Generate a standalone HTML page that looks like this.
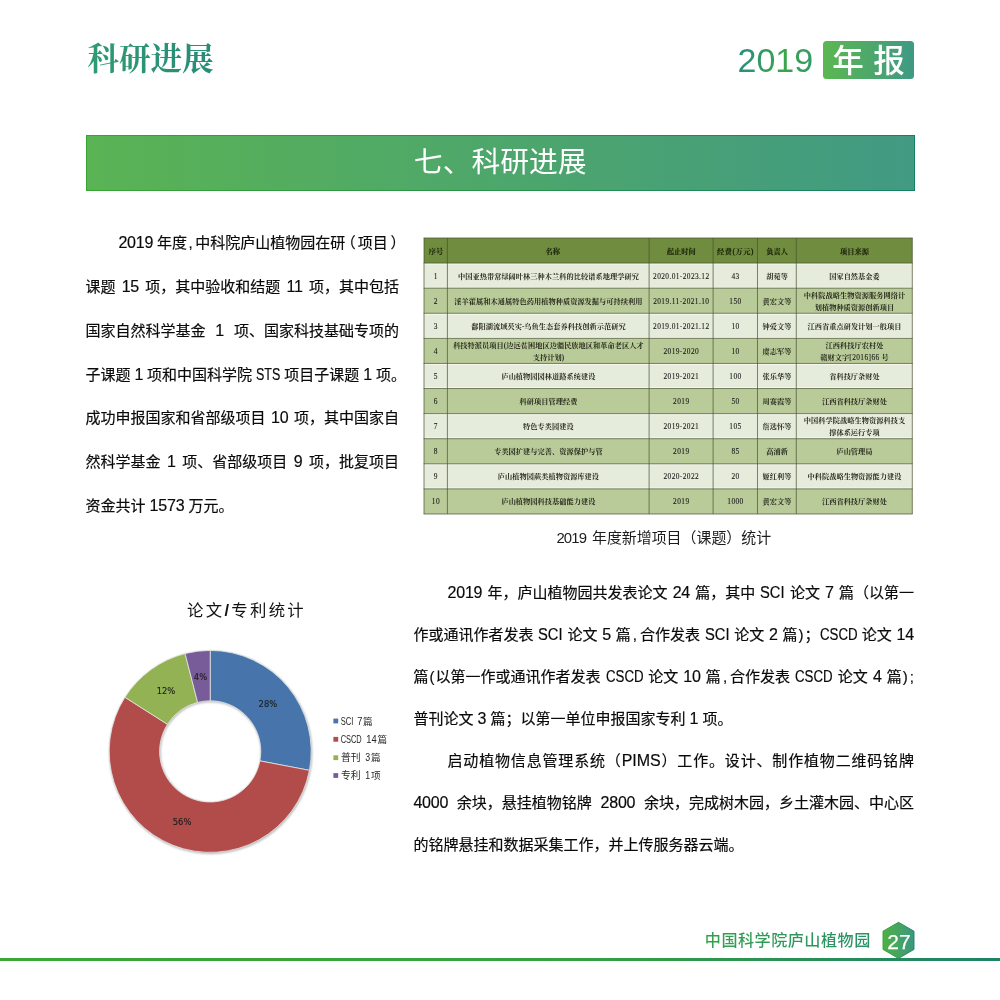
<!DOCTYPE html>
<html lang="zh-CN">
<head>
<meta charset="utf-8">
<title>科研进展 - 2019 年报</title>
<style>
*{margin:0;padding:0;box-sizing:border-box;}
html,body{width:1000px;height:1000px;background:#fff;overflow:hidden;}
body{position:relative;font-family:"Liberation Sans","Noto Sans CJK SC",sans-serif;color:#222;}
#page{position:absolute;left:0;top:0;width:1000px;height:1000px;will-change:transform;}
.abs{position:absolute;white-space:nowrap;}
/* header */
#hd-title{left:87.5px;top:37px;font-family:"Liberation Serif","Noto Serif CJK SC",serif;font-weight:700;font-size:31.5px;line-height:46px;
  background:linear-gradient(90deg,#2f9a72,#278c78);-webkit-background-clip:text;background-clip:text;color:transparent;}
#hd-year{left:737.5px;top:41px;font-size:34px;line-height:38px;
  background:linear-gradient(100deg,#2c8f78 10%,#3aa64a 60%,#2f9a6a);-webkit-background-clip:text;background-clip:text;color:transparent;}
#hd-badge{left:823px;top:41px;width:91px;height:37.5px;border-radius:3.5px;background:linear-gradient(90deg,#5cb751,#3f9984);}
#hd-badge span{position:absolute;top:-2.2px;color:#fff;font-size:31.5px;line-height:44px;font-weight:500;}
/* banner */
#banner{left:86px;top:134.5px;width:828.5px;height:56px;background:linear-gradient(90deg,#37a432,#138063);}
#banner i{position:absolute;left:1px;top:1px;right:1px;bottom:1px;background:linear-gradient(90deg,#5ab354,#419a82);}
#banner span{position:absolute;left:0;right:0;top:-.4px;text-align:center;color:#fff;font-size:28.8px;line-height:56px;font-weight:400;}
/* paragraphs */
.para{position:absolute;font-size:15px;color:#0a0a0a;-webkit-text-stroke:.18px #0a0a0a;}
.para div{white-space:nowrap;text-align:justify;text-align-last:justify;}
.para div.last{text-align:left;text-align-last:left;}
.pe{margin-right:-7px;}
.hc{margin:0 3px 0 2px;}
.hp{margin:0 1px;}
.sc2{margin-left:1px;}
.para b{font-weight:400;font-size:16px;letter-spacing:-.2px;line-height:0;}
.para b.u{display:inline-block;letter-spacing:0;text-align:left;}
.para b.u i{display:inline-block;font-style:normal;transform-origin:0 50%;white-space:nowrap;}
/* table */
#tb .c{position:absolute;display:flex;align-items:center;justify-content:center;text-align:center;
  font-family:"Liberation Serif","Noto Serif CJK SC",serif;font-weight:700;font-size:7.2px;line-height:12.4px;color:#26281c;white-space:nowrap;letter-spacing:.05px;}
#tb .c span{display:block;}
#tb .h{color:#1a220b;-webkit-text-stroke:.12px #1a220b;}
#tb .d,#tb .c b{letter-spacing:.4px;font-size:7.4px;font-weight:400;color:#1a1a1a;-webkit-text-stroke:.1px #1a1a1a;}
#tb .hn{padding-left:8.4px;}
#tb .hf{letter-spacing:.55px;}
#cap{left:556.4px;top:526.6px;font-size:14.95px;line-height:22px;word-spacing:1.6px;color:#1c1c1c;}
#cap b{font-weight:400;letter-spacing:-.86px;}
/* footer */
#ft-line{left:0;top:957.8px;width:1000px;height:2.8px;background:linear-gradient(90deg,#3aa738 0%,#36a23f 55%,#1e8268 100%);}
#ft-text{left:704.8px;top:926.8px;font-size:16.1px;line-height:26px;letter-spacing:.5px;font-weight:500;
  background:linear-gradient(90deg,#33a04e,#2a9068);-webkit-background-clip:text;background-clip:text;color:transparent;}
#ft-hex{left:880px;top:919px;width:38px;height:42px;}
</style>
</head>
<body>
<div id="page">

<div class="abs" id="hd-title">科研进展</div>
<div class="abs" id="hd-year">2019</div>
<div class="abs" id="hd-badge"><span style="left:9.2px">年</span><span style="left:50.2px">报</span></div>

<div class="abs" id="banner"><i></i><span>七、科研进展</span></div>

<div class="para" id="lp" style="left:85.4px;top:221.3px;width:313.6px;line-height:43.73px;">
<div class="last" style="padding-left:33px;word-spacing:-.3px"><b>2019</b> 年度<span style="margin:0 2.7px 0 1.4px">,</span>中科院庐山植物园在研<span style="margin:0 2px 0 -4.6px">（</span>项目<span style="margin:0 -9px 0 2.7px">）</span></div>
<div style="word-spacing:2.05px">课题 <b>15</b> 项，其中验收和结题 <b>11</b> 项，其中包括</div>
<div style="word-spacing:5.75px">国家自然科学基金 <b>1</b> 项、国家科技基础专项的</div>
<div style="word-spacing:-0.21px">子课题 <b>1</b> 项和中国科学院 <b class="u" style="width:24.3px"><i style="transform:scaleX(0.78)">STS</i></b> 项目子课题 <b>1</b> 项<span class="pe">。</span></div>
<div style="word-spacing:1.40px">成功申报国家和省部级项目 <b>10</b> 项，其中国家自</div>
<div style="word-spacing:2.35px">然科学基金 <b>1</b> 项、省部级项目 <b>9</b> 项，批复项目</div>
<div class="last">资金共计 <b>1573</b> 万元。</div>
</div>

<!--TABLE-START-->
<svg class="abs" id="tb-bg" style="left:423.2px;top:237.0px" width="490.30" height="277.99" viewBox="423.2 237.0 490.30 277.99">
<rect x="424.2" y="238.00" width="488.30" height="25.14" fill="#708c3e"/>
<rect x="424.2" y="263.09" width="488.30" height="25.14" fill="#e6ecdb"/>
<rect x="424.2" y="288.18" width="488.30" height="25.14" fill="#b9cb98"/>
<rect x="424.2" y="313.27" width="488.30" height="25.14" fill="#e6ecdb"/>
<rect x="424.2" y="338.36" width="488.30" height="25.14" fill="#b9cb98"/>
<rect x="424.2" y="363.45" width="488.30" height="25.14" fill="#e6ecdb"/>
<rect x="424.2" y="388.54" width="488.30" height="25.14" fill="#b9cb98"/>
<rect x="424.2" y="413.63" width="488.30" height="25.14" fill="#e6ecdb"/>
<rect x="424.2" y="438.72" width="488.30" height="25.14" fill="#b9cb98"/>
<rect x="424.2" y="463.81" width="488.30" height="25.14" fill="#e6ecdb"/>
<rect x="424.2" y="488.90" width="488.30" height="25.14" fill="#b9cb98"/>
<rect x="424.2" y="263.59" width="488.30" height="1" fill="#f6f8f0"/>
<rect x="424.2" y="286.78" width="488.30" height="0.9" fill="#f4f7ee"/>
<rect x="424.2" y="313.77" width="488.30" height="1" fill="#f6f8f0"/>
<rect x="424.2" y="336.96" width="488.30" height="0.9" fill="#f4f7ee"/>
<rect x="424.2" y="363.95" width="488.30" height="1" fill="#f6f8f0"/>
<rect x="424.2" y="387.14" width="488.30" height="0.9" fill="#f4f7ee"/>
<rect x="424.2" y="414.13" width="488.30" height="1" fill="#f6f8f0"/>
<rect x="424.2" y="437.32" width="488.30" height="0.9" fill="#f4f7ee"/>
<rect x="424.2" y="464.31" width="488.30" height="1" fill="#f6f8f0"/>
<rect x="424.2" y="487.50" width="488.30" height="0.9" fill="#f4f7ee"/>
<path d="M423.8 238.00H912.9M423.8 263.09H912.9M423.8 288.18H912.9M423.8 313.27H912.9M423.8 338.36H912.9M423.8 363.45H912.9M423.8 388.54H912.9M423.8 413.63H912.9M423.8 438.72H912.9M423.8 463.81H912.9M423.8 488.90H912.9M423.8 513.99H912.9M424.2 238.00V513.99M447.6 238.00V513.99M649.3 238.00V513.99M713.3 238.00V513.99M757.7 238.00V513.99M796.5 238.00V513.99M912.5 238.00V513.99" stroke="#4a5533" stroke-width="0.85" fill="none" stroke-opacity="0.85"/>
</svg>
<div id="tb">
<div class="c h" style="left:424.2px;top:239.20px;width:23.4px;height:25.09px"><span>序号</span></div>
<div class="c h hn" style="left:447.6px;top:239.20px;width:201.7px;height:25.09px"><span>名称</span></div>
<div class="c h" style="left:649.3px;top:239.20px;width:64.0px;height:25.09px"><span>起止时间</span></div>
<div class="c h hf" style="left:713.3px;top:239.20px;width:44.4px;height:25.09px"><span>经费(万元)</span></div>
<div class="c h" style="left:757.7px;top:239.20px;width:38.8px;height:25.09px"><span>负责人</span></div>
<div class="c h" style="left:796.5px;top:239.20px;width:116.0px;height:25.09px"><span>项目来源</span></div>
<div class="c d" style="left:424.2px;top:264.29px;width:23.4px;height:25.09px"><span>1</span></div>
<div class="c" style="left:447.6px;top:264.29px;width:201.7px;height:25.09px"><span>中国亚热带常绿阔叶林三种木兰科的比较谱系地理学研究</span></div>
<div class="c d" style="left:649.3px;top:264.29px;width:64.0px;height:25.09px"><span>2020.01-2023.12</span></div>
<div class="c d" style="left:713.3px;top:264.29px;width:44.4px;height:25.09px"><span>43</span></div>
<div class="c" style="left:757.7px;top:264.29px;width:38.8px;height:25.09px"><span>胡菀等</span></div>
<div class="c" style="left:796.5px;top:264.29px;width:116.0px;height:25.09px"><span>国家自然基金委</span></div>
<div class="c d" style="left:424.2px;top:289.38px;width:23.4px;height:25.09px"><span>2</span></div>
<div class="c" style="left:447.6px;top:289.38px;width:201.7px;height:25.09px"><span>淫羊藿属和木通属特色药用植物种质资源发掘与可持续利用</span></div>
<div class="c d" style="left:649.3px;top:289.38px;width:64.0px;height:25.09px"><span>2019.11-2021.10</span></div>
<div class="c d" style="left:713.3px;top:289.38px;width:44.4px;height:25.09px"><span>150</span></div>
<div class="c" style="left:757.7px;top:289.38px;width:38.8px;height:25.09px"><span>黄宏文等</span></div>
<div class="c" style="left:796.5px;top:289.38px;width:116.0px;height:25.09px"><span>中科院战略生物资源服务网络计<br>划植物种质资源创新项目</span></div>
<div class="c d" style="left:424.2px;top:314.47px;width:23.4px;height:25.09px"><span>3</span></div>
<div class="c" style="left:447.6px;top:314.47px;width:201.7px;height:25.09px"><span>鄱阳湖流域芡实-乌鱼生态套养科技创新示范研究</span></div>
<div class="c d" style="left:649.3px;top:314.47px;width:64.0px;height:25.09px"><span>2019.01-2021.12</span></div>
<div class="c d" style="left:713.3px;top:314.47px;width:44.4px;height:25.09px"><span>10</span></div>
<div class="c" style="left:757.7px;top:314.47px;width:38.8px;height:25.09px"><span>钟爱文等</span></div>
<div class="c" style="left:796.5px;top:314.47px;width:116.0px;height:25.09px"><span>江西省重点研发计划一般项目</span></div>
<div class="c d" style="left:424.2px;top:339.56px;width:23.4px;height:25.09px"><span>4</span></div>
<div class="c" style="left:447.6px;top:339.56px;width:201.7px;height:25.09px"><span>科技特派员项目(边远贫困地区边疆民族地区和革命老区人才<br>支持计划)</span></div>
<div class="c d" style="left:649.3px;top:339.56px;width:64.0px;height:25.09px"><span>2019-2020</span></div>
<div class="c d" style="left:713.3px;top:339.56px;width:44.4px;height:25.09px"><span>10</span></div>
<div class="c" style="left:757.7px;top:339.56px;width:38.8px;height:25.09px"><span>虞志军等</span></div>
<div class="c" style="left:796.5px;top:339.56px;width:116.0px;height:25.09px"><span>江西科技厅农村处<br>赣财文字<b>[2016]66</b> 号</span></div>
<div class="c d" style="left:424.2px;top:364.65px;width:23.4px;height:25.09px"><span>5</span></div>
<div class="c" style="left:447.6px;top:364.65px;width:201.7px;height:25.09px"><span>庐山植物园园林道路系统建设</span></div>
<div class="c d" style="left:649.3px;top:364.65px;width:64.0px;height:25.09px"><span>2019-2021</span></div>
<div class="c d" style="left:713.3px;top:364.65px;width:44.4px;height:25.09px"><span>100</span></div>
<div class="c" style="left:757.7px;top:364.65px;width:38.8px;height:25.09px"><span>张乐华等</span></div>
<div class="c" style="left:796.5px;top:364.65px;width:116.0px;height:25.09px"><span>省科技厅条财处</span></div>
<div class="c d" style="left:424.2px;top:389.74px;width:23.4px;height:25.09px"><span>6</span></div>
<div class="c" style="left:447.6px;top:389.74px;width:201.7px;height:25.09px"><span>科研项目管理经费</span></div>
<div class="c d" style="left:649.3px;top:389.74px;width:64.0px;height:25.09px"><span>2019</span></div>
<div class="c d" style="left:713.3px;top:389.74px;width:44.4px;height:25.09px"><span>50</span></div>
<div class="c" style="left:757.7px;top:389.74px;width:38.8px;height:25.09px"><span>周赛霞等</span></div>
<div class="c" style="left:796.5px;top:389.74px;width:116.0px;height:25.09px"><span>江西省科技厅条财处</span></div>
<div class="c d" style="left:424.2px;top:414.83px;width:23.4px;height:25.09px"><span>7</span></div>
<div class="c" style="left:447.6px;top:414.83px;width:201.7px;height:25.09px"><span>特色专类园建设</span></div>
<div class="c d" style="left:649.3px;top:414.83px;width:64.0px;height:25.09px"><span>2019-2021</span></div>
<div class="c d" style="left:713.3px;top:414.83px;width:44.4px;height:25.09px"><span>105</span></div>
<div class="c" style="left:757.7px;top:414.83px;width:38.8px;height:25.09px"><span>詹选怀等</span></div>
<div class="c" style="left:796.5px;top:414.83px;width:116.0px;height:25.09px"><span>中国科学院战略生物资源科技支<br>撑体系运行专项</span></div>
<div class="c d" style="left:424.2px;top:439.92px;width:23.4px;height:25.09px"><span>8</span></div>
<div class="c" style="left:447.6px;top:439.92px;width:201.7px;height:25.09px"><span>专类园扩建与完善、资源保护与管</span></div>
<div class="c d" style="left:649.3px;top:439.92px;width:64.0px;height:25.09px"><span>2019</span></div>
<div class="c d" style="left:713.3px;top:439.92px;width:44.4px;height:25.09px"><span>85</span></div>
<div class="c" style="left:757.7px;top:439.92px;width:38.8px;height:25.09px"><span>高浦新</span></div>
<div class="c" style="left:796.5px;top:439.92px;width:116.0px;height:25.09px"><span>庐山管理局</span></div>
<div class="c d" style="left:424.2px;top:465.01px;width:23.4px;height:25.09px"><span>9</span></div>
<div class="c" style="left:447.6px;top:465.01px;width:201.7px;height:25.09px"><span>庐山植物园蕨类植物资源库建设</span></div>
<div class="c d" style="left:649.3px;top:465.01px;width:64.0px;height:25.09px"><span>2020-2022</span></div>
<div class="c d" style="left:713.3px;top:465.01px;width:44.4px;height:25.09px"><span>20</span></div>
<div class="c" style="left:757.7px;top:465.01px;width:38.8px;height:25.09px"><span>姬红利等</span></div>
<div class="c" style="left:796.5px;top:465.01px;width:116.0px;height:25.09px"><span>中科院战略生物资源能力建设</span></div>
<div class="c d" style="left:424.2px;top:490.10px;width:23.4px;height:25.09px"><span>10</span></div>
<div class="c" style="left:447.6px;top:490.10px;width:201.7px;height:25.09px"><span>庐山植物园科技基础能力建设</span></div>
<div class="c d" style="left:649.3px;top:490.10px;width:64.0px;height:25.09px"><span>2019</span></div>
<div class="c d" style="left:713.3px;top:490.10px;width:44.4px;height:25.09px"><span>1000</span></div>
<div class="c" style="left:757.7px;top:490.10px;width:38.8px;height:25.09px"><span>黄宏文等</span></div>
<div class="c" style="left:796.5px;top:490.10px;width:116.0px;height:25.09px"><span>江西省科技厅条财处</span></div>
</div>
<!--TABLE-END-->
<div class="abs" id="cap"><b>2019</b> 年度新增项目（课题）统计</div>

<!--CHART-START-->
<svg class="abs" id="chart" style="left:90px;top:590px" width="330" height="280" viewBox="90 590 330 280">
<defs><filter id="sh" x="-60%" y="-60%" width="220%" height="220%"><feGaussianBlur stdDeviation="1.2"/></filter></defs>
<circle cx="210.79999999999998" cy="752.4" r="75.8" fill="none" stroke="#000" stroke-opacity="0.28" stroke-width="51.4" filter="url(#sh)"/>
<path d="M210.20 650.40A101.0 101.0 0 0 1 309.41 770.33L259.90 760.88A50.6 50.6 0 0 0 210.20 700.80Z" fill="#4774aa" stroke="#e8ebe8" stroke-opacity="0.85" stroke-width="0.9" stroke-linejoin="round"/>
<path d="M309.41 770.33A101.0 101.0 0 1 1 124.92 697.28L167.48 724.29A50.6 50.6 0 1 0 259.90 760.88Z" fill="#b14c4b" stroke="#e8ebe8" stroke-opacity="0.85" stroke-width="0.9" stroke-linejoin="round"/>
<path d="M124.92 697.28A101.0 101.0 0 0 1 185.08 653.57L197.62 702.39A50.6 50.6 0 0 0 167.48 724.29Z" fill="#93b254" stroke="#e8ebe8" stroke-opacity="0.85" stroke-width="0.9" stroke-linejoin="round"/>
<path d="M185.08 653.57A101.0 101.0 0 0 1 210.20 650.40L210.20 700.80A50.6 50.6 0 0 0 197.62 702.39Z" fill="#785c9a" stroke="#e8ebe8" stroke-opacity="0.85" stroke-width="0.9" stroke-linejoin="round"/>
<text x="267.9" y="706.5999999999999" text-anchor="middle" font-family="'DejaVu Sans Condensed','Liberation Sans',sans-serif" font-size="9.3" fill="#1d1d1d" stroke="#1d1d1d" stroke-width=".12">28%</text>
<text x="182.1" y="825.0999999999999" text-anchor="middle" font-family="'DejaVu Sans Condensed','Liberation Sans',sans-serif" font-size="9.3" fill="#1d1d1d" stroke="#1d1d1d" stroke-width=".12">56%</text>
<text x="166.0" y="694.0999999999999" text-anchor="middle" font-family="'DejaVu Sans Condensed','Liberation Sans',sans-serif" font-size="9.3" fill="#1d1d1d" stroke="#1d1d1d" stroke-width=".12">12%</text>
<text x="200.5" y="680.1999999999999" text-anchor="middle" font-family="'DejaVu Sans Condensed','Liberation Sans',sans-serif" font-size="9.3" fill="#1d1d1d" stroke="#1d1d1d" stroke-width=".12">4%</text>
<rect x="333.4" y="718.6" width="4.8" height="4.8" fill="#4774aa"/>
<text x="340.7" y="724.6" font-family="'Liberation Sans','Noto Sans CJK SC',sans-serif" font-size="10.2" fill="#262626" textLength="12.6" lengthAdjust="spacingAndGlyphs">SCI</text>
<text x="357.2" y="724.6" font-family="'Liberation Sans','Noto Sans CJK SC',sans-serif" font-size="10.2" fill="#262626" textLength="5.2" lengthAdjust="spacingAndGlyphs">7</text>
<text x="362.9" y="724.6" font-family="'Liberation Sans','Noto Sans CJK SC',sans-serif" font-size="9.6" fill="#262626">篇</text>
<rect x="333.4" y="736.9" width="4.8" height="4.8" fill="#b14c4b"/>
<text x="340.7" y="742.9" font-family="'Liberation Sans','Noto Sans CJK SC',sans-serif" font-size="10.2" fill="#262626" textLength="21.0" lengthAdjust="spacingAndGlyphs">CSCD</text>
<text x="366.2" y="742.9" font-family="'Liberation Sans','Noto Sans CJK SC',sans-serif" font-size="10.2" fill="#262626" textLength="10.4" lengthAdjust="spacingAndGlyphs">14</text>
<text x="377.4" y="742.9" font-family="'Liberation Sans','Noto Sans CJK SC',sans-serif" font-size="9.6" fill="#262626">篇</text>
<rect x="333.4" y="755.3" width="4.8" height="4.8" fill="#93b254"/>
<text x="340.9" y="761.3" font-family="'Liberation Sans','Noto Sans CJK SC',sans-serif" font-size="9.8" fill="#262626">普刊</text>
<text x="365.2" y="761.3" font-family="'Liberation Sans','Noto Sans CJK SC',sans-serif" font-size="10.2" fill="#262626" textLength="4.9" lengthAdjust="spacingAndGlyphs">3</text>
<text x="371.0" y="761.3" font-family="'Liberation Sans','Noto Sans CJK SC',sans-serif" font-size="9.6" fill="#262626">篇</text>
<rect x="333.4" y="773.1" width="4.8" height="4.8" fill="#785c9a"/>
<text x="340.9" y="779.1" font-family="'Liberation Sans','Noto Sans CJK SC',sans-serif" font-size="9.8" fill="#262626">专利</text>
<text x="365.2" y="779.1" font-family="'Liberation Sans','Noto Sans CJK SC',sans-serif" font-size="10.2" fill="#262626" textLength="4.9" lengthAdjust="spacingAndGlyphs">1</text>
<text x="371.0" y="779.1" font-family="'Liberation Sans','Noto Sans CJK SC',sans-serif" font-size="9.6" fill="#262626">项</text>
<text x="187" y="616.0" font-family="'Liberation Sans','Noto Sans CJK SC',sans-serif" font-size="16.4" letter-spacing="2.3" fill="#111">论文<tspan font-weight="700">/</tspan>专利统计</text>
</svg>
<!--CHART-END-->

<div class="para" id="rp" style="left:413.4px;top:571.5px;width:500.6px;line-height:42.1px;">
<div style="padding-left:34.1px;word-spacing:0.96px"><b>2019</b> 年，庐山植物园共发表论文 <b>24</b> 篇，其中 <b class="u" style="width:24.5px"><i style="transform:scaleX(0.92)">SCI</i></b> 论文 <b>7</b> 篇（以第一</div>
<div style="word-spacing:0.62px">作或通讯作者发表 <b class="u" style="width:24.5px"><i style="transform:scaleX(0.92)">SCI</i></b> 论文 <b>5</b> 篇<span class="hc">,</span>合作发表 <b class="u" style="width:24.5px"><i style="transform:scaleX(0.92)">SCI</i></b> 论文 <b>2</b> 篇<span class="hp">)</span>；<b class="u" style="width:37.5px"><i style="transform:scaleX(0.83)">CSCD</i></b> 论文 <b>14</b></div>
<div style="word-spacing:0.95px">篇<span class="hp">(</span>以第一作或通讯作者发表 <b class="u" style="width:37.5px"><i style="transform:scaleX(0.83)">CSCD</i></b> 论文 <b>10</b> 篇<span class="hc">,</span>合作发表 <b class="u" style="width:37.5px"><i style="transform:scaleX(0.83)">CSCD</i></b> 论文 <b>4</b> 篇<span class="hp">)</span><span class="sc2">;</span></div>
<div class="last">普刊论文 <b>3</b> 篇；以第一单位申报国家专利 <b>1</b> 项。</div>
<div style="padding-left:34.1px">启动植物信息管理系统（<b class="u" style="width:39.0px"><i style="transform:scaleX(1.0)">PIMS</i></b>）工作。设计、制作植物二维码铭牌</div>
<div style="word-spacing:4.47px"><b>4000</b> 余块，悬挂植物铭牌 <b>2800</b> 余块，完成树木园，乡土灌木园、中心区</div>
<div class="last">的铭牌悬挂和数据采集工作，并上传服务器云端。</div>
</div>

<div class="abs" id="ft-line"></div>
<div class="abs" id="ft-text">中国科学院庐山植物园</div>
<svg class="abs" id="ft-hex" viewBox="880 919 38 42">
  <defs>
    <linearGradient id="hx" x1="0" x2="1" y1="0" y2="0"><stop offset="0" stop-color="#4fb045"/><stop offset="1" stop-color="#3b9880"/></linearGradient>
    <linearGradient id="hxs" x1="0" x2="1" y1="0" y2="0"><stop offset="0" stop-color="#2fa52c"/><stop offset="1" stop-color="#1a8066"/></linearGradient>
  </defs>
  <polygon points="898.5,922.3 914,931.2 914,949.4 898.5,958.4 883,949.4 883,931.2" fill="url(#hx)" stroke="url(#hxs)" stroke-width="0.9" stroke-linejoin="round"/>
  <text x="898.9" y="948.5" text-anchor="middle" font-family="'Liberation Sans',sans-serif" font-size="21" fill="#fff" stroke="#fff" stroke-width=".25">27</text>
</svg>

</div>
</body>
</html>
